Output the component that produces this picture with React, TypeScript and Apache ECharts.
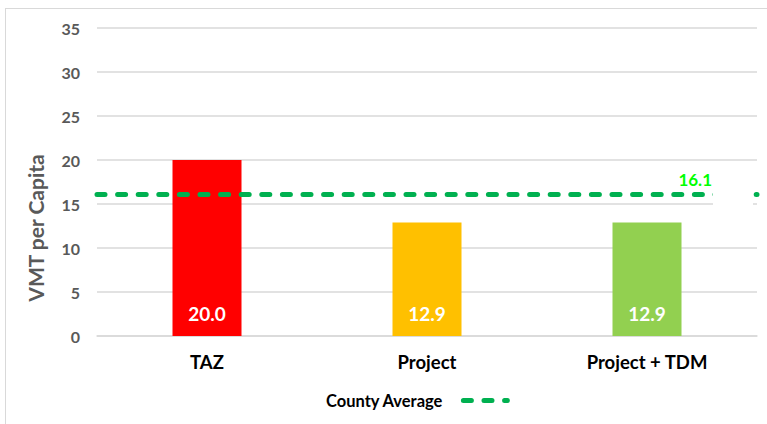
import React, { useEffect, useRef } from "react";
import * as echarts from "echarts";

const categories = ["TAZ", "Project", "Project + TDM"];
const vmtValues = [20.0, 12.9, 12.9];
const barColors = ["#FF0000", "#FFC000", "#92D050"];
const countyAverage = 16.1;
const yTicks = { min: 0, max: 35, interval: 5 };

const FONT = "Lato, 'Open Sans', sans-serif";

export default function App() {
  const ref = useRef<HTMLDivElement>(null);
  useEffect(() => {
    if (!ref.current) return;
    const chart = echarts.init(ref.current, undefined, { renderer: "svg" });
    const dashStyle = {
      color: "#00B050",
      width: 5,
      type: [8, 12.6] as any,
      cap: "round" as any,
    };
    chart.setOption({
      animation: false,
      backgroundColor: "#ffffff",
      textStyle: { fontFamily: FONT },
      grid: { left: 97, right: 10, top: 28, bottom: 88, containLabel: false },
      legend: {
        data: ["County Average"],
        top: 387,
        left: 320,
        align: "right",
        itemWidth: 44,
        itemHeight: 10,
        itemStyle: { opacity: 0 },
        lineStyle: { ...dashStyle },
        textStyle: {
          fontFamily: FONT,
          fontWeight: "bold",
          fontSize: 16.5,
          color: "#000",
          padding: [0, 16, 0, 0],
        },
      },
      xAxis: {
        type: "category",
        data: categories,
        axisTick: { show: false },
        axisLine: { lineStyle: { color: "#D9D9D9", width: 1.5 } },
        axisLabel: {
          margin: 16,
          fontFamily: FONT,
          fontWeight: "bold",
          fontSize: 18.5,
          color: "#000",
        },
      },
      yAxis: {
        type: "value",
        min: yTicks.min,
        max: yTicks.max,
        interval: yTicks.interval,
        name: "VMT per Capita",
        nameLocation: "middle",
        nameRotate: 90,
        nameGap: 51,
        nameTextStyle: {
          fontFamily: FONT,
          fontWeight: "bold",
          fontSize: 21,
          color: "#595959",
          padding: [0, 92, 0, 0],
        },
        axisLine: { show: false },
        axisTick: { show: false },
        splitLine: { lineStyle: { color: "#D9D9D9", width: 1.5 } },
        axisLabel: {
          margin: 17,
          fontFamily: FONT,
          fontWeight: "bold",
          fontSize: 16,
          color: "#595959",
        },
      },
      series: [
        {
          type: "bar",
          name: "VMT per Capita",
          barWidth: 69,
          data: vmtValues.map((v, i) => ({ value: v, itemStyle: { color: barColors[i] } })),
          label: {
            show: true,
            position: "insideBottom",
            distance: 13,
            formatter: (p: any) => Number(p.value).toFixed(1),
            fontFamily: FONT,
            fontWeight: "bold",
            fontSize: 19,
            color: "#fff",
          },
          z: 2,
        },
        {
          type: "line",
          name: "County Average",
          data: [],
          symbol: "none",
          color: "#00B050",
          lineStyle: dashStyle,
          z: 3,
          markLine: {
            silent: true,
            symbol: ["none", "none"],
            lineStyle: dashStyle,
            data: [{ yAxis: countyAverage }],
            label: {
              show: true,
              position: "insideEndTop",
              distance: [45, 6],
              formatter: (p: any) => Number(p.value).toFixed(1),
              fontFamily: FONT,
              fontWeight: "bold",
              fontSize: 17,
              color: "#00FF00",
            },
          },
        },
      ],
      graphic: [
        {
          type: "rect",
          z: 1000,
          shape: { x: 713, y: 186, width: 40, height: 22 },
          style: { fill: "#ffffff" },
        },
        {
          type: "line",
          z: 1000,
          shape: { x1: 5.5, y1: 8, x2: 5.5, y2: 424 },
          style: { stroke: "#D9D9D9", lineWidth: 1 },
        },
        {
          type: "line",
          z: 1000,
          shape: { x1: 5, y1: 8.5, x2: 767, y2: 8.5 },
          style: { stroke: "#D9D9D9", lineWidth: 1 },
        },
      ],
    });
    return () => chart.dispose();
  }, []);
  return (
    <div
      ref={ref}
      style={{ position: "fixed", left: 0, top: 0, width: 767, height: 424 }}
    />
  );
}
